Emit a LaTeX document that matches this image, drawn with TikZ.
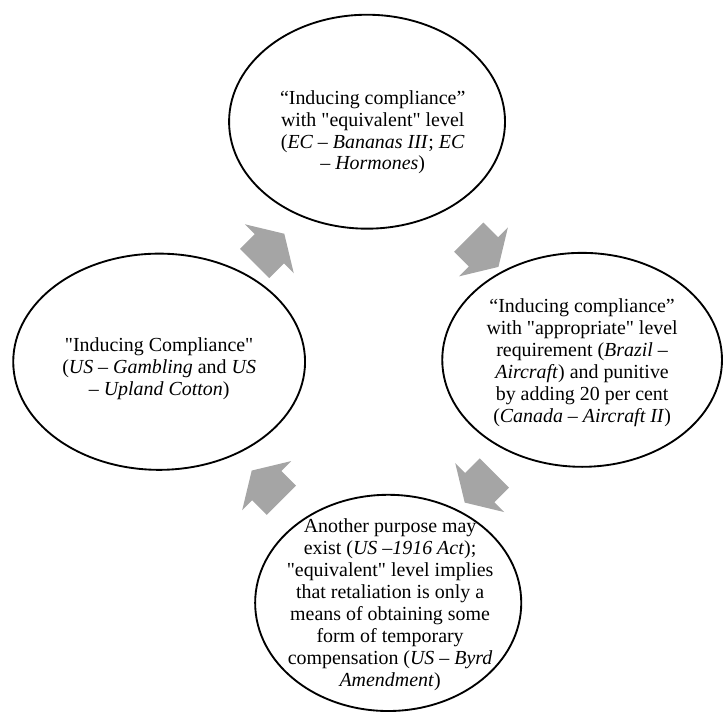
\documentclass[tikz,border=0pt]{standalone}
\usepackage{fontspec}
\setmainfont{Liberation Serif}[Ligatures=TeXOff]
\usetikzlibrary{shapes.geometric,shapes.arrows,calc}
\definecolor{arrowgray}{RGB}{165,165,165}

\begin{document}
\begin{tikzpicture}[
    stage/.style={draw, ellipse, line width=1.4pt, inner sep=0pt},
    stagetext/.style={align=center, inner sep=0pt, font=\fontsize{15}{16.5}\selectfont},
    turn/.style={single arrow, fill=arrowgray, draw=none,
        inner xsep=0pt, inner ysep=0.54cm, minimum height=1.11cm,
        single arrow head extend=0.37cm, single arrow tip angle=117}]
    % fix the frame
    \useasboundingbox (0,0) rectangle (19.18,18.86);

    % the four stages
    \node[stage, minimum width=7.30cm, minimum height=5.66cm] (top) at (9.71,15.64) {};
    \node[stage, minimum width=7.40cm, minimum height=5.66cm] (right) at (15.40,9.34) {};
    \node[stage, minimum width=7.72cm, minimum height=5.72cm] (left) at (4.21,9.29) {};
    \node[stage, minimum width=7.04cm, minimum height=5.72cm] (bottom) at (10.27,2.91) {};

    % the texts
    \node[stagetext] (toptext) at ($(top)+(0.15,-0.28)$) {“Inducing compliance”\\
        with "equivalent" level\\
        (\textit{EC – Bananas III}; \textit{EC}\\
        \textit{– Hormones})};
    \node[stagetext] (righttext) at ($(right)+(0,-0.08)$) {“Inducing compliance”\\
        with "appropriate" level\\
        requirement (\textit{Brazil –}\\
        \textit{Aircraft}) and punitive\\
        by adding 20 per cent\\
        (\textit{Canada – Aircraft II})};
    \node[stagetext] (lefttext) at ($(left)+(0,-0.18)$) {"Inducing Compliance"\\
        (\textit{US – Gambling} and \textit{US}\\
        – \textit{Upland Cotton})};
    \node[stagetext] (bottomtext) at ($(bottom)+(0.05,-0.05)$) {Another purpose may\\
        exist (\textit{US –1916 Act});\\
        "equivalent" level implies\\
        that retaliation is only a\\
        means of obtaining some\\
        form of temporary\\
        compensation (\textit{US – Byrd}\\
        \textit{Amendment})};

    % the arrows between the stages
    \node[turn, rotate=45] (a1) at ($(left)!0.5!(top)+(0.05,-0.3)$) {};
    \node[turn, rotate=-45] (a2) at ($(top)!0.5!(right)+(0.12,-0.18)$) {};
    \node[turn, rotate=-135] (a3) at ($(right)!0.5!(bottom)+(-0.03,-0.05)$) {};
    \node[turn, rotate=135] (a4) at ($(bottom)!0.5!(left)+(-0.07,-0.2)$) {};
\end{tikzpicture}
\end{document}
